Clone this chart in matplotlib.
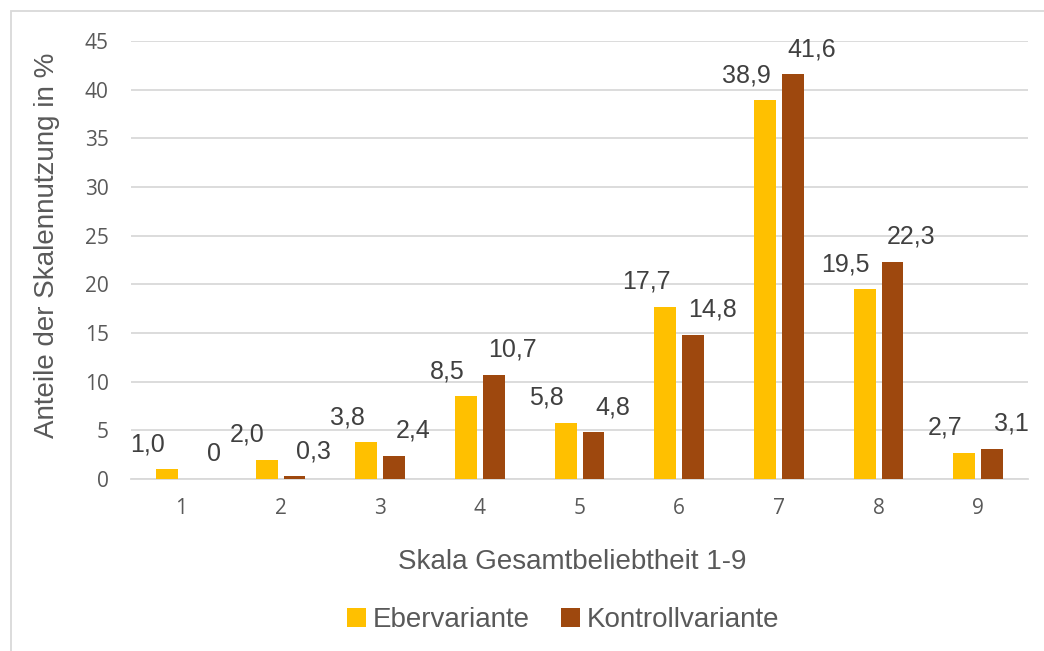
import numpy as np
import matplotlib
matplotlib.use('Agg')
from matplotlib import pyplot as plt
from matplotlib.patches import Rectangle

# data
categories = ['1', '2', '3', '4', '5', '6', '7', '8', '9']
eber = [1.0, 2.0, 3.8, 8.5, 5.8, 17.7, 38.9, 19.5, 2.7]
kontrolle = [0, 0.3, 2.4, 10.7, 4.8, 14.8, 41.6, 22.3, 3.1]
eber_labels = ['1,0', '2,0', '3,8', '8,5', '5,8', '17,7', '38,9', '19,5', '2,7']
kontrolle_labels = ['0', '0,3', '2,4', '10,7', '4,8', '14,8', '41,6', '22,3', '3,1']
series_names = ['Ebervariante', 'Kontrollvariante']

col_eber = '#FFC000'
col_kontr = '#9E480E'
txt_col = '#595959'
lbl_col = '#404040'

fig = plt.figure(figsize=(10.44, 6.51), dpi=100)
ax = fig.add_axes([0.1255, 0.2642, 0.8592, 0.6728])

x = np.arange(len(categories))
w = 0.22
off = 0.14
b1 = ax.bar(x - off, eber, w, color=col_eber, label=series_names[0], zorder=3)
b2 = ax.bar(x + off, kontrolle, w, color=col_kontr, label=series_names[1], zorder=3)

# data labels, excel style: shifted up and outward
for xi, v, s in zip(x, eber, eber_labels):
    ax.annotate(s, (xi - off, v), xytext=(-19, 25), textcoords='offset pixels',
                ha='center', va='center', fontsize=18, color=lbl_col,
                family='Liberation Sans', annotation_clip=False)
for xi, v, s in zip(x, kontrolle, kontrolle_labels):
    ax.annotate(s, (xi + off, v), xytext=(19, 25), textcoords='offset pixels',
                ha='center', va='center', fontsize=18, color=lbl_col,
                family='Liberation Sans', annotation_clip=False)

ax.set_xlim(-0.5, len(categories) - 0.5)
ax.set_ylim(0, 45)
ax.set_yticks(np.arange(0, 46, 5))
ax.set_xticks(x)
ax.set_xticklabels(categories)
ax.grid(axis='y', color='#D9D9D9', linewidth=1.3, zorder=0)
for sp in ['top', 'right', 'left']:
    ax.spines[sp].set_visible(False)
ax.spines['bottom'].set_color('#D9D9D9')
ax.spines['bottom'].set_linewidth(1.3)
ax.tick_params(axis='both', length=0, labelsize=15, labelcolor=txt_col)
ax.tick_params(axis='y', pad=16)
ax.tick_params(axis='x', pad=14)
for t in ax.get_xticklabels() + ax.get_yticklabels():
    t.set_family('Open Sans')

fig.text(47 / 1044, 1 - 245 / 651, 'Anteile der Skalennutzung in %', rotation=90,
         ha='center', va='center', fontsize=20, color=txt_col, family='Liberation Sans')
fig.text(572 / 1044, 1 - 562 / 651, 'Skala Gesamtbeliebtheit 1-9', ha='center', va='center',
         fontsize=20, color=txt_col, family='Liberation Sans')

leg = fig.legend(handles=[b1, b2], loc='center', bbox_to_anchor=(563 / 1044, 1 - 620 / 651),
                 ncol=2, frameon=False, handlelength=0.7, handleheight=0.7,
                 handletextpad=0.25, columnspacing=1.1,
                 prop={'family': 'Liberation Sans', 'size': 20})
for t in leg.get_texts():
    t.set_color(txt_col)

# chart border
fig.patches.append(Rectangle((11 / 1044, -0.05), 1.2, 1.05 - 11 / 651, transform=fig.transFigure,
                             fill=False, edgecolor='#D9D9D9', linewidth=1.3))

fig.savefig('out.png', dpi=100, facecolor='white')
